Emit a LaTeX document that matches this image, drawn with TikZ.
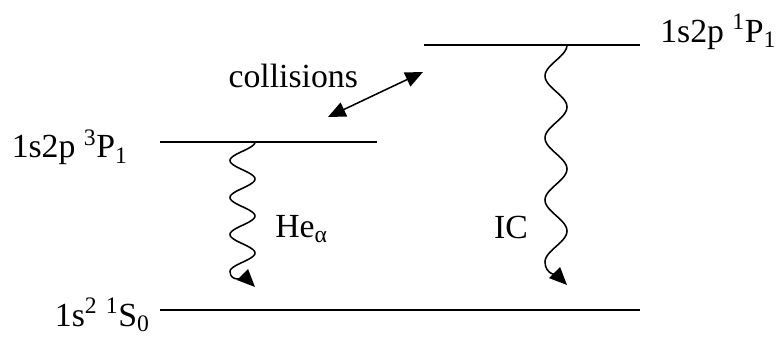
\documentclass[tikz,border=0pt]{standalone}
\usepackage{fontspec}
\setmainfont{Liberation Serif}
\usetikzlibrary{arrows.meta}

\begin{document}
\begin{tikzpicture}[>={Triangle[length=4.4mm,width=3.8mm]},
    level/.style={line width=1.7pt},
    wave/.style={line width=1.1pt, ->},
    lbl/.style={font=\fontsize{24}{28}\selectfont, inner sep=0pt}]
    \useasboundingbox (0,0) rectangle (19.475,8.45);

    % 1. energy levels
    \draw[level] (4.0,0.7) coordinate (g1) -- (16.0,0.7) coordinate (g2);
    \draw[level] (4.0,4.9) coordinate (t1) -- (9.425,4.9) coordinate (t2);
    \draw[level] (10.6,7.325) coordinate (s1) -- (16.0,7.325) coordinate (s2);

    % 2. level labels
    \node[lbl, anchor=base east] (ground) at (3.75,0.3) {1s\textsuperscript{2} \textsuperscript{1}S\textsubscript{0}};
    \node[lbl, anchor=base east] (triplet) at (3.2,4.5) {1s2p \textsuperscript{3}P\textsubscript{1}};
    \node[lbl, anchor=base west] (singlet) at (16.5,7.4) {1s2p \textsuperscript{1}P\textsubscript{1}};

    % 3. collisions between the two upper levels
    \coordinate (c1) at (8.2,5.525);
    \coordinate (c2) at (10.575,6.65);
    \draw[<->, line width=1.1pt] (c1) -- (c2);
    \node[lbl, anchor=base] (coll) at (7.33,6.25) {collisions};

    % 4. He-alpha decay (wavy)
    \coordinate (he top) at (6.375,4.9);
    \coordinate (he end) at (6.375,1.275);
    \draw[wave] plot[domain=0:3.5, samples=120, smooth]
        ({6.375+0.3125*(cos(360*\x)-1)}, {4.9-0.925*\x}) to[out=-90, in=135] (he end);
    \node[lbl, anchor=base west] (hea) at (6.875,2.525) {He\textsubscript{α}};

    % 5. IC decay (wavy)
    \coordinate (ic top) at (14.175,7.325);
    \coordinate (ic end) at (14.175,1.325);
    \draw[wave] plot[domain=0:3.5, samples=120, smooth]
        ({14.175+0.275*(cos(360*\x)-1)}, {7.325-1.55*\x}) to[out=-90, in=135] (ic end);
    \node[lbl, anchor=base] (ic) at (12.775,2.5) {IC};
\end{tikzpicture}
\end{document}
